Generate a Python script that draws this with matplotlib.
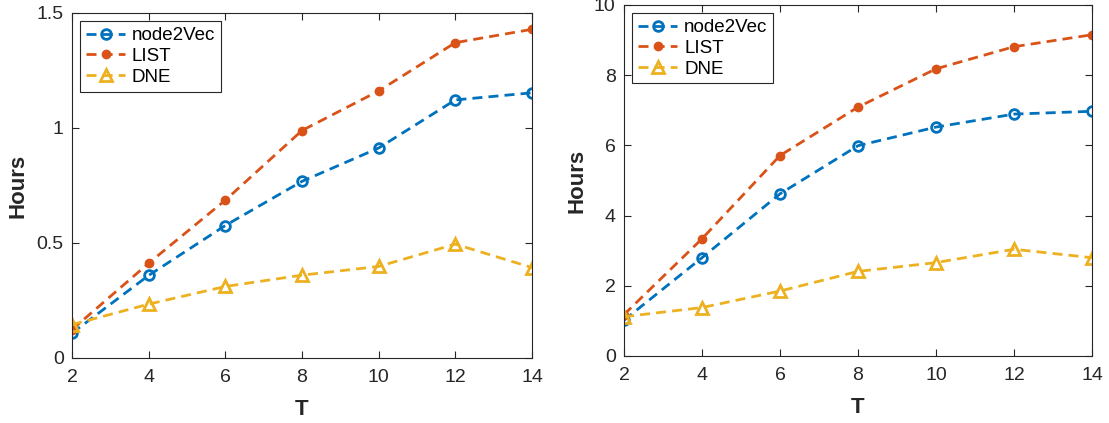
import matplotlib.pyplot as plt

plt.rcParams['font.family'] = ['Liberation Sans', 'DejaVu Sans']

T = [2, 4, 6, 8, 10, 12, 14]

# left panel (hours)
node2vec_a = [0.108, 0.359, 0.576, 0.768, 0.913, 1.122, 1.153]
list_a = [0.123, 0.412, 0.686, 0.989, 1.161, 1.371, 1.429]
dne_a = [0.145, 0.234, 0.311, 0.360, 0.398, 0.495, 0.393]

# right panel (hours)
node2vec_b = [1.02, 2.80, 4.62, 5.99, 6.52, 6.89, 6.97]
list_b = [1.18, 3.34, 5.71, 7.09, 8.18, 8.81, 9.15]
dne_b = [1.12, 1.38, 1.85, 2.41, 2.66, 3.04, 2.80]

c_blue = '#0072BD'
c_red = '#D95319'
c_yel = '#EDB120'
axc = '#262626'

fig = plt.figure(figsize=(11.09, 4.23), dpi=100)
ax1 = fig.add_axes([0.0649, 0.1537, 0.4148, 0.8156])
ax2 = fig.add_axes([0.5627, 0.1584, 0.4220, 0.8300])


def draw(ax, n2v, lst, dne, ylim, yticks, yticklabels, ypad):
    ax.plot(T, n2v, '--o', color=c_blue, lw=2, ms=7, mfc='none', mew=2,
            dashes=(3.6, 2.2), label='node2Vec')
    ax.plot(T, lst, '--o', color=c_red, lw=2, ms=6, mfc=c_red, mew=1,
            dashes=(3.6, 2.2), label='LIST')
    ax.plot(T, dne, '--^', color=c_yel, lw=2, ms=9, mfc='none', mew=2,
            dashes=(3.6, 2.2), label='DNE')
    ax.set_xlim(2, 14)
    ax.set_ylim(*ylim)
    ax.set_xticks(T)
    ax.set_yticks(yticks)
    ax.set_yticklabels(yticklabels)
    ax.tick_params(direction='in', top=True, right=True, labelsize=14,
                   colors=axc, length=5, width=0.8)
    ax.tick_params(axis='x', pad=8)
    ax.tick_params(axis='y', pad=6)
    for s in ax.spines.values():
        s.set_color(axc)
        s.set_linewidth(0.8)
    ax.set_xlabel('T', fontsize=16, fontweight='bold', color=axc, labelpad=9)
    ax.set_ylabel('Hours', fontsize=16, fontweight='bold', color=axc, labelpad=ypad)
    leg = ax.legend(loc='upper left', fontsize=13.5, fancybox=False, framealpha=1,
                    edgecolor=axc, handlelength=2.1, borderpad=0.3, labelspacing=0.2,
                    handletextpad=0.35, borderaxespad=0.45)
    leg.get_frame().set_linewidth(0.8)


draw(ax1, node2vec_a, list_a, dne_a, (0, 1.5), [0, 0.5, 1, 1.5], ['0', '0.5', '1', '1.5'], 6)
draw(ax2, node2vec_b, list_b, dne_b, (0, 10), [0, 2, 4, 6, 8, 10], ['0', '2', '4', '6', '8', '10'], 5)

fig.savefig('out.png', dpi=100)
